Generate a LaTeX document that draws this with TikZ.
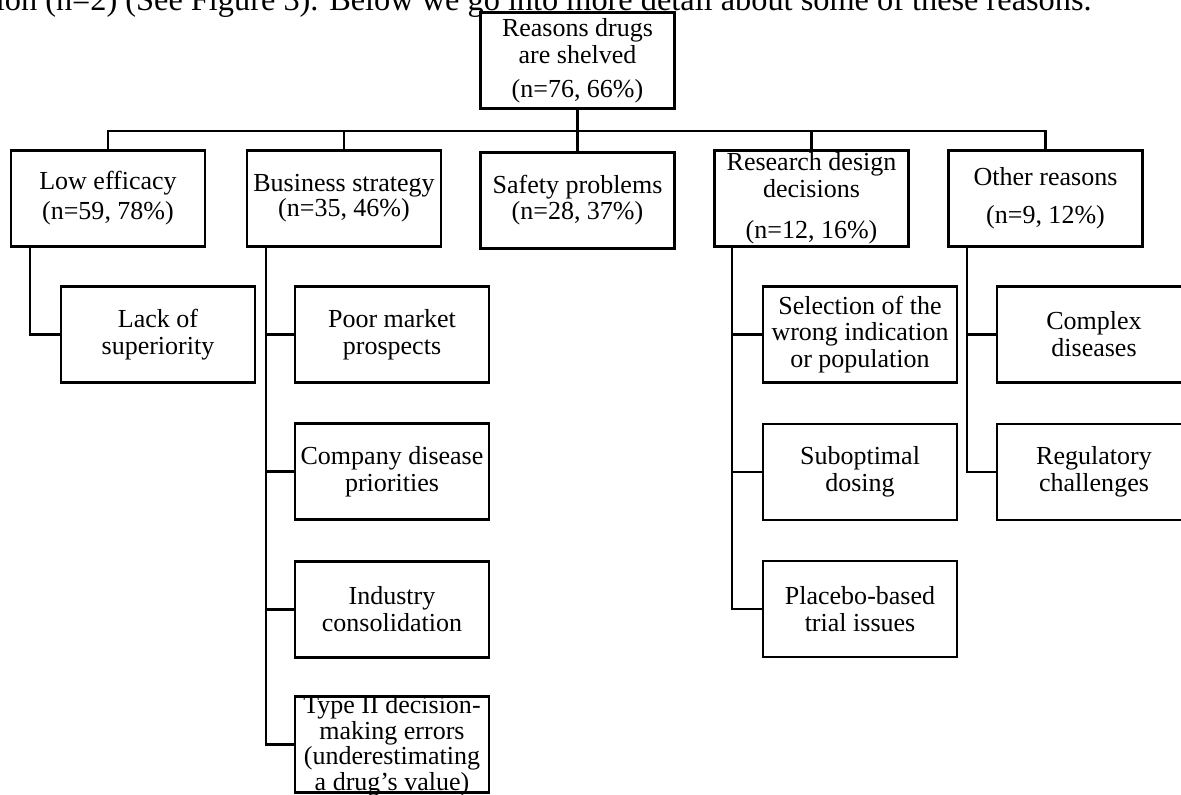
\documentclass[tikz,border=0pt]{standalone}
\usepackage{fontspec}
\setmainfont{Liberation Serif}
\tikzset{
  box/.style={draw,line width=1.4pt,minimum width=3.88cm,minimum height=1.92cm,
    inner sep=1pt,align=center,font=\fontsize{14.8}{15.3}\selectfont},
  link/.style={line width=1.2pt},
}
\begin{document}
\begin{tikzpicture}
        \useasboundingbox (0,0) rectangle (23.62,-15.88);
        % line of running text cut off above the figure
        \node[anchor=base east,inner sep=0pt,font=\fontsize{18.4}{19}\selectfont] (intro) at (21.84,-0.22) {tion (n=2) (See Figure 3). Below we go into more detail about some of these reasons.};
        \node[box] (root) at (11.55,-1.21) {Reasons drugs\\are shelved\\[0.15cm](n=76, 66\%)};
        \node[box] (low) at (2.16,-3.97) {Low efficacy\\[0.06cm](n=59, 78\%)};
        \node[box] (bus) at (6.88,-3.97) {\raisebox{0.1cm}{\begin{tabular}{@{}c@{}}Business strategy\\[-0.04cm](n=35, 46\%)\end{tabular}}};
        \node[box] (safe) at (11.55,-4.01) {Safety problems\\[-0.02cm](n=28, 37\%)};
        \node[box] (res) at (16.23,-3.97) {Research design\\decisions\\[0.28cm](n=12, 16\%)};
        \node[box] (oth) at (20.91,-3.97) {Other reasons\\[0.22cm](n=9, 12\%)};
        \node[box] (lack) at (3.16,-6.69) {Lack of\\superiority};
        \node[box] (poor) at (7.84,-6.69) {Poor market\\prospects};
        \node[box] (comp) at (7.84,-9.43) {Company disease\\priorities};
        \node[box] (ind) at (7.84,-12.19) {Industry\\consolidation};
        \node[box] (type) at (7.84,-14.89) {\raisebox{-0.34cm}{\smash{\fontsize{14.8}{14.2}\selectfont\begin{tabular}{@{}c@{}}Type II decision-\\making errors\\(underestimating\\a drug's value)\end{tabular}}}};
        \node[box] (sel) at (17.2,-6.69) {Selection of the\\wrong indication\\or population};
        \node[box] (sub) at (17.2,-9.44) {Suboptimal\\dosing};
        \node[box] (plac) at (17.2,-12.18) {Placebo-based\\trial issues};
        \node[box] (cplx) at (21.88,-6.69) {Complex\\diseases};
        \node[box] (reg) at (21.88,-9.44) {Regulatory\\challenges};
        \foreach \c in {low,bus,safe,res,oth}
            \draw[link] (root.south) -- ++(0,-0.42) -| (\c.north);
        \draw[link] ([xshift=0.4cm]low.south west) |- (lack.west);
        \foreach \c in {poor,comp,ind,type}
            \draw[link] ([xshift=0.4cm]bus.south west) |- (\c.west);
        \foreach \c in {sel,sub,plac}
            \draw[link] ([xshift=0.38cm]res.south west) |- (\c.west);
        \foreach \c in {cplx,reg}
            \draw[link] ([xshift=0.4cm]oth.south west) |- (\c.west);
    \end{tikzpicture}
\end{document}
